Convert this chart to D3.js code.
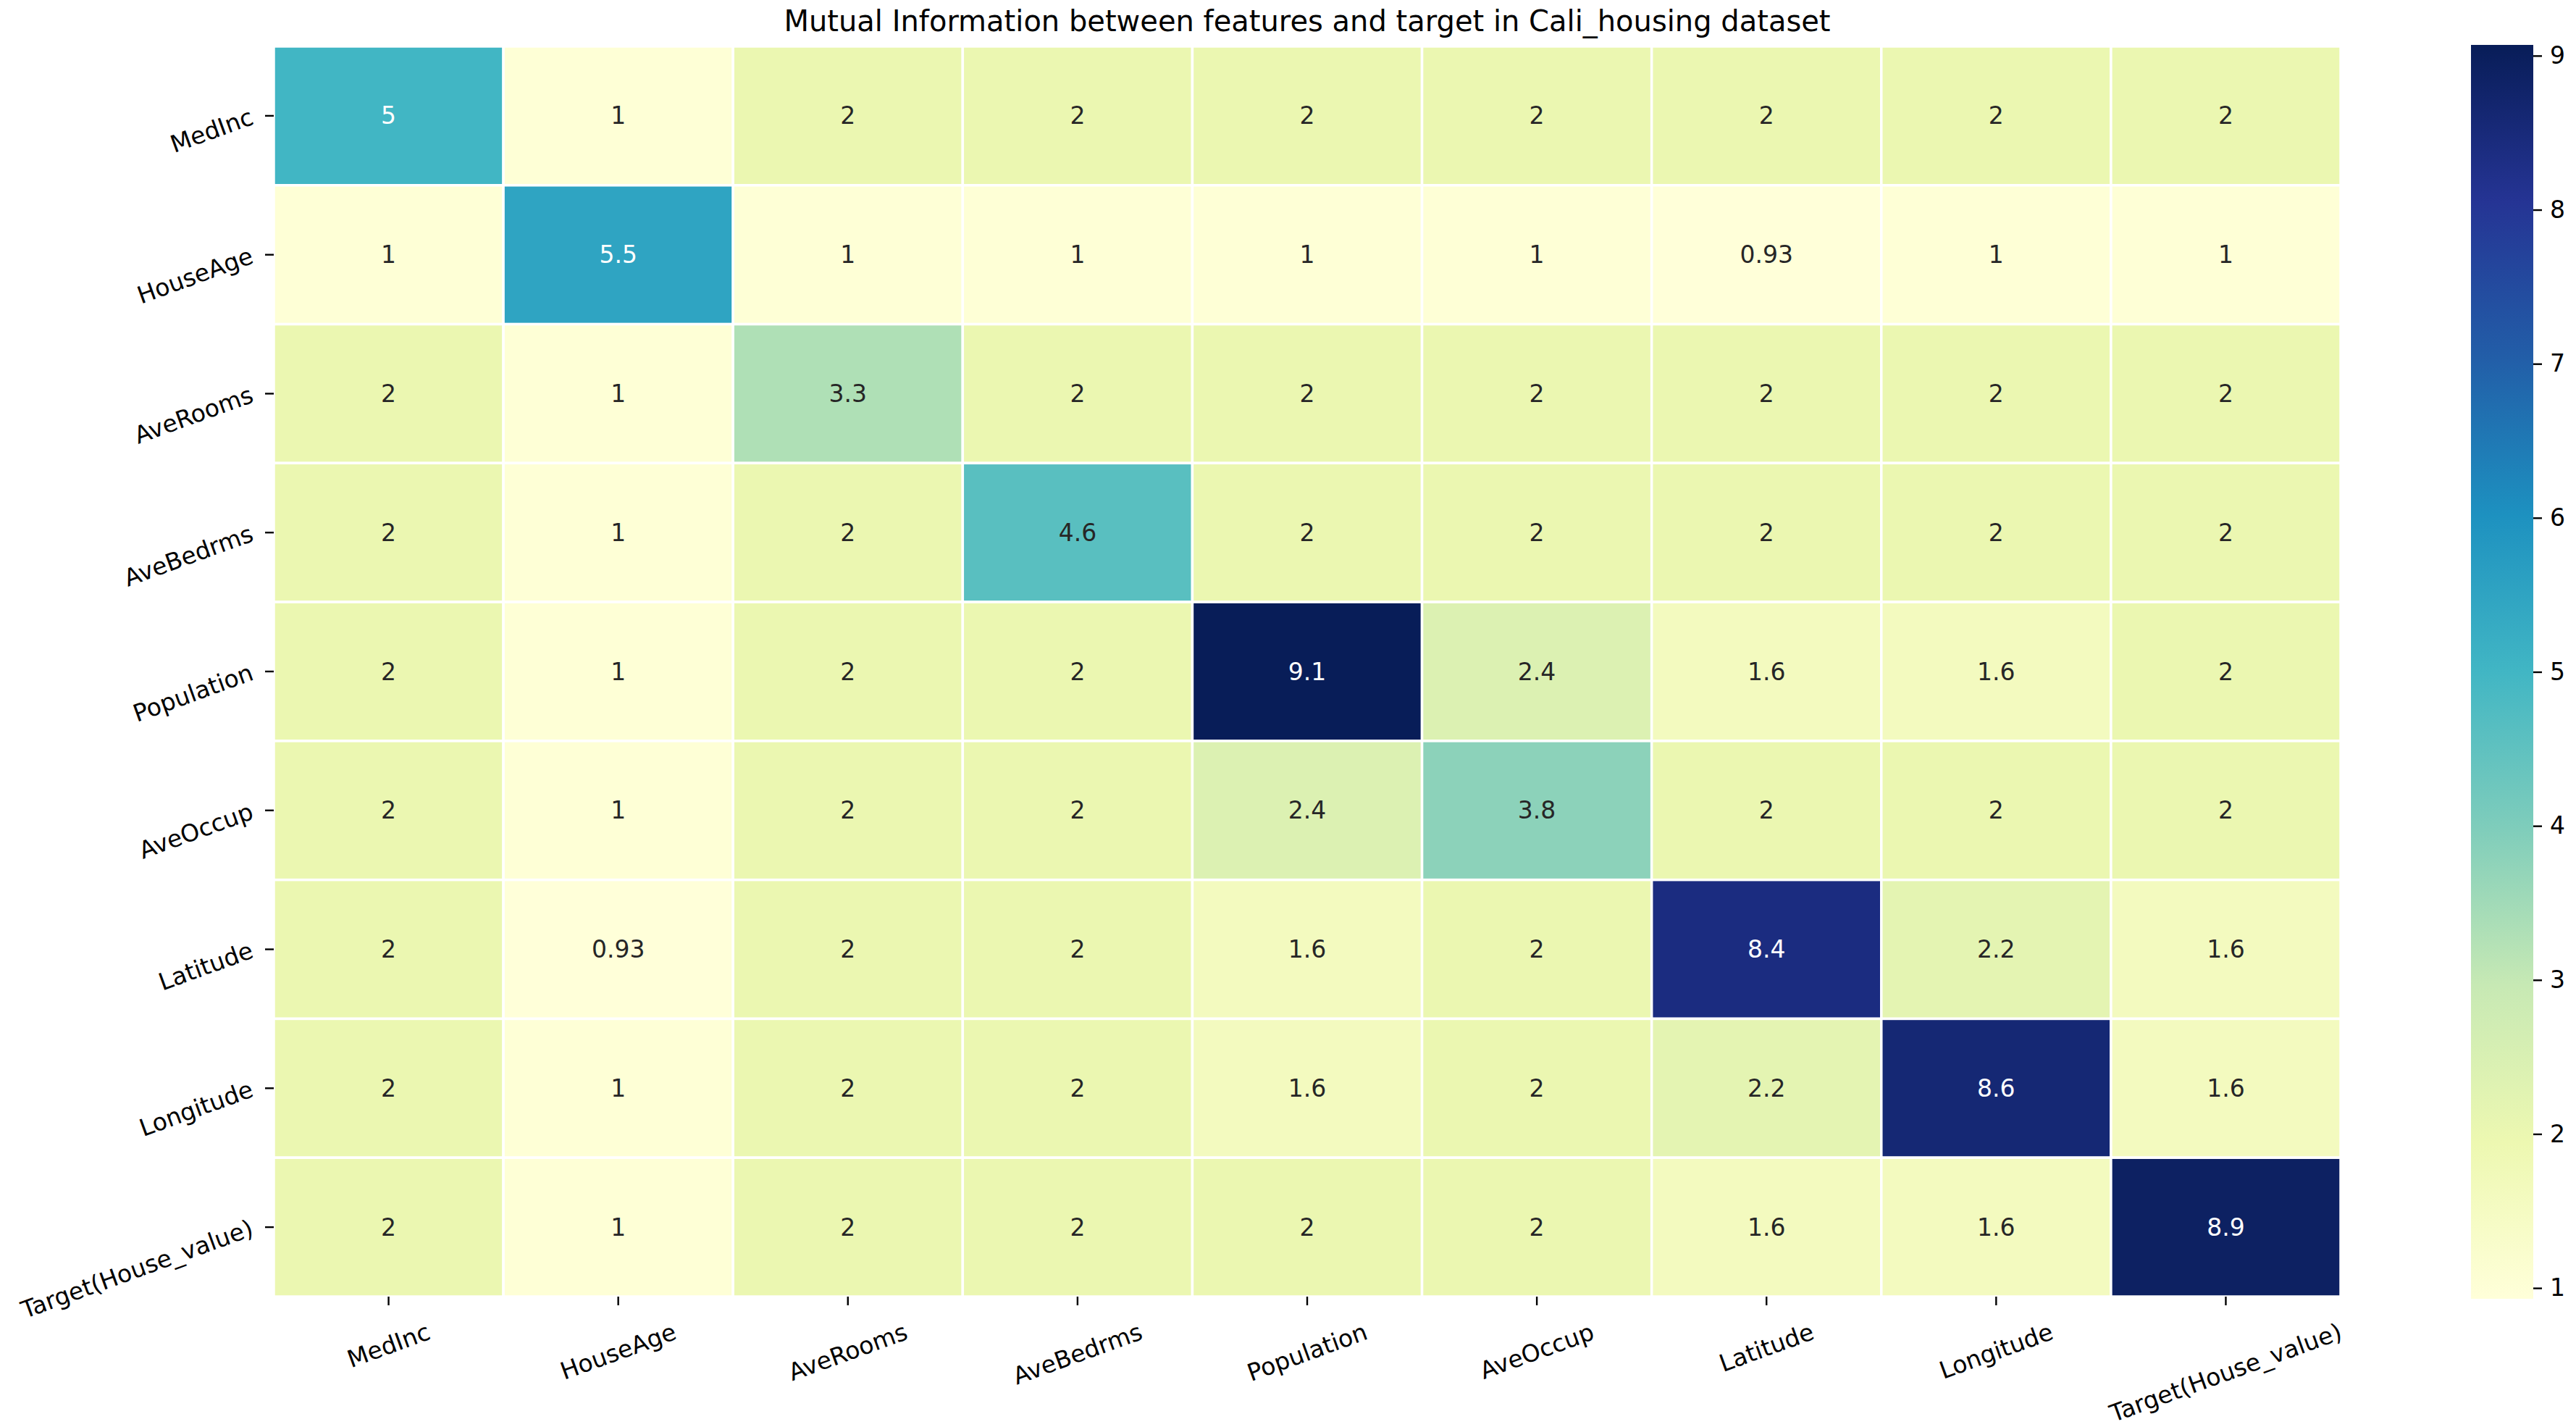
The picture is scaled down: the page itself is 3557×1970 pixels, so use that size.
<!DOCTYPE html>
<html>
<head>
<meta charset="utf-8">
<script src="https://cdn.jsdelivr.net/npm/d3@7"></script>
<style>
  html, body { margin: 0; padding: 0; background: #ffffff; }
  svg { display: block; font-family: "DejaVu Sans", sans-serif; }
</style>
</head>
<body>
<svg id="chart" width="3557" height="1970"></svg>
<script>
// ---- data ----
const features = ["MedInc", "HouseAge", "AveRooms", "AveBedrms", "Population", "AveOccup", "Latitude", "Longitude", "Target(House_value)"];
const rowMedInc     = [5,    1,    2,   2,   2,    2,   2,    2,   2];
const rowHouseAge   = [1,    5.5,  1,   1,   1,    1,   0.93, 1,   1];
const rowAveRooms   = [2,    1,    3.3, 2,   2,    2,   2,    2,   2];
const rowAveBedrms  = [2,    1,    2,   4.6, 2,    2,   2,    2,   2];
const rowPopulation = [2,    1,    2,   2,   9.07, 2.4, 1.6,  1.6, 2];
const rowAveOccup   = [2,    1,    2,   2,   2.4,  3.8, 2,    2,   2];
const rowLatitude   = [2,    0.93, 2,   2,   1.6,  2,   8.4,  2.2, 1.6];
const rowLongitude  = [2,    1,    2,   2,   1.6,  2,   2.2,  8.6, 1.6];
const rowTarget     = [2,    1,    2,   2,   2,    2,   1.6,  1.6, 8.9];
const matrix = [rowMedInc, rowHouseAge, rowAveRooms, rowAveBedrms, rowPopulation, rowAveOccup, rowLatitude, rowLongitude, rowTarget];
const colorbarTicks = [1, 2, 3, 4, 5, 6, 7, 8, 9];
const titleText = "Mutual Information between features and target in Cali_housing dataset";
// YlGnBu (matplotlib) anchor colours
const ylgnbu = ["#ffffd9", "#edf8b1", "#c7e9b4", "#7fcdbb", "#41b6c4", "#1d91c0", "#225ea8", "#253494", "#081d58"];

// ---- layout ----
const W = 3557, H = 1970;
const L = 378, R = 3232, T = 64, B = 1790;
const cbX = 3412, cbW = 86, cbTop = 62, cbBot = 1793;
const fs = 33;

const svg = d3.select("#chart");

const cells = [];
matrix.forEach((row, i) => row.forEach((v, j) => cells.push({ r: features[i], c: features[j], v })));
const vmin = d3.min(cells, d => d.v);
const vmax = d3.max(cells, d => d.v);

const x = d3.scaleBand().domain(features).range([L, R]);
const y = d3.scaleBand().domain(features).range([T, B]);

const cmapT = d3.scaleLinear().domain(ylgnbu.map((_, i) => i / (ylgnbu.length - 1))).range(ylgnbu).interpolate(d3.interpolateRgb).clamp(true);
const color = v => cmapT((v - vmin) / (vmax - vmin));

function luminance(c) {
  const rgb = d3.rgb(c);
  const f = u => { u /= 255; return u <= 0.03928 ? u / 12.92 : Math.pow((u + 0.055) / 1.055, 2.4); };
  return 0.2126 * f(rgb.r) + 0.7152 * f(rgb.g) + 0.0722 * f(rgb.b);
}
const fmt = d3.format(".2~g");

// cells
svg.append("g").selectAll("rect").data(cells).join("rect")
  .attr("x", d => x(d.c)).attr("y", d => y(d.r))
  .attr("width", x.bandwidth()).attr("height", y.bandwidth())
  .attr("fill", d => color(d.v))
  .attr("stroke", "#ffffff").attr("stroke-width", 3.5);

// annotations
svg.append("g").selectAll("text").data(cells).join("text")
  .attr("x", d => x(d.c) + x.bandwidth() / 2)
  .attr("y", d => y(d.r) + y.bandwidth() / 2)
  .attr("text-anchor", "middle").attr("dominant-baseline", "central")
  .attr("font-size", fs)
  .attr("fill", d => luminance(color(d.v)) > 0.408 ? "#262626" : "#ffffff")
  .text(d => fmt(d.v));

// y axis
const yAxis = svg.append("g").attr("transform", `translate(${L},0)`)
  .call(d3.axisLeft(y).tickSize(12).tickPadding(0));
yAxis.select(".domain").remove();
yAxis.selectAll(".tick line").attr("stroke", "#000").attr("stroke-width", 2.4);
yAxis.selectAll(".tick text")
  .attr("x", null).attr("dy", null)
  .attr("font-size", fs).attr("font-family", "DejaVu Sans").attr("fill", "#000")
  .attr("text-anchor", "end").attr("dominant-baseline", "central")
  .attr("transform", "translate(-30,0) rotate(-20)");

// x axis
const xAxis = svg.append("g").attr("transform", `translate(0,${B})`)
  .call(d3.axisBottom(x).tickSize(12).tickPadding(0));
xAxis.select(".domain").remove();
xAxis.selectAll(".tick line").attr("stroke", "#000").attr("stroke-width", 2.4);
const ang = 20 * Math.PI / 180;
xAxis.selectAll(".tick text")
  .attr("y", null).attr("dy", null)
  .attr("font-size", fs).attr("font-family", "DejaVu Sans").attr("fill", "#000")
  .attr("text-anchor", "middle").attr("dominant-baseline", "central")
  .each(function () {
    const w = this.getComputedTextLength();
    const h = fs * 1.1;
    const bh = w * Math.sin(ang) + h * Math.cos(ang);
    d3.select(this).attr("transform", `translate(0,${30 + bh / 2}) rotate(-20)`);
  });

// title
svg.append("text")
  .attr("x", (L + R) / 2).attr("y", 43)
  .attr("text-anchor", "middle").attr("font-size", 40).attr("fill", "#000")
  .text(titleText);

// colorbar
const cy = d3.scaleLinear().domain([vmin, vmax]).range([cbBot, cbTop]);
const defs = svg.append("defs");
const grad = defs.append("linearGradient").attr("id", "cbgrad")
  .attr("x1", 0).attr("y1", 1).attr("x2", 0).attr("y2", 0);
grad.selectAll("stop").data(ylgnbu).join("stop")
  .attr("offset", (d, i) => i / (ylgnbu.length - 1))
  .attr("stop-color", d => d);
svg.append("rect")
  .attr("x", cbX).attr("y", cy(vmax)).attr("width", cbW).attr("height", cy(vmin) - cy(vmax))
  .attr("fill", "url(#cbgrad)");
const cAxis = svg.append("g").attr("transform", `translate(${cbX + cbW},0)`)
  .call(d3.axisRight(cy).tickValues(colorbarTicks).tickFormat(d3.format("d")).tickSize(12).tickPadding(11));
cAxis.select(".domain").remove();
cAxis.selectAll(".tick line").attr("stroke", "#000").attr("stroke-width", 2.4);
cAxis.selectAll(".tick text").attr("font-size", fs).attr("font-family", "DejaVu Sans").attr("fill", "#000");
</script>
</body>
</html>
